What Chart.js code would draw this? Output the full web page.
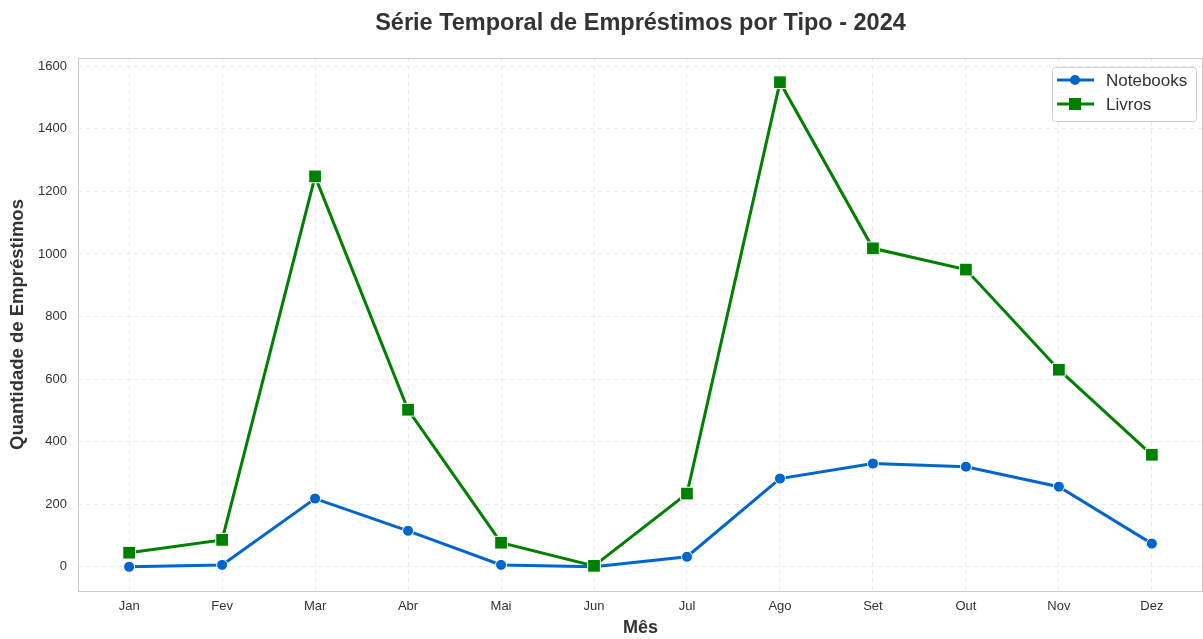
<!DOCTYPE html>
<html lang="pt">
<head>
  <meta charset="UTF-8">
  <title>Série Temporal de Empréstimos por Tipo - 2024</title>
  <script src="https://cdn.jsdelivr.net/npm/chart.js"></script>
  <style>
    html, body { margin: 0; padding: 0; background: #fff; }
    #wrap { width: 1203px; height: 639px; }
  </style>
</head>
<body>
  <div id="wrap">
    <canvas id="emprestimosChart" width="1203" height="639"></canvas>
  </div>

  <script>
    // Dados
    const meses = ['Jan', 'Fev', 'Mar', 'Abr', 'Mai', 'Jun', 'Jul', 'Ago', 'Set', 'Out', 'Nov', 'Dez'];
    const notebooks = [0, 6, 218, 115, 6, 0, 32, 282, 330, 320, 256, 74];
    const livros = [45, 86, 1248, 502, 77, 3, 234, 1549, 1018, 950, 630, 358];
    const yTicks = [0, 200, 400, 600, 800, 1000, 1200, 1400, 1600];
    const titulo = 'Série Temporal de Empréstimos por Tipo - 2024';

    const FONT = '"Liberation Sans", Arial, sans-serif';
    const BLUE = '#0066cc';
    const GREEN = '#008000';

    // matplotlib-style margins (5%)
    const yMaxData = Math.max(...livros, ...notebooks);
    const yMinData = Math.min(...livros, ...notebooks);
    const yPad = (yMaxData - yMinData) * 0.05;
    const xPad = (meses.length - 1) * 0.05;

    function toPoints(arr) {
      return arr.map((v, i) => ({ x: i, y: v }));
    }

    // title centred over the axes, frame around the plot area, legend top right
    const framePlugin = {
      id: 'frame',
      afterDraw(chart) {
        const ctx = chart.ctx;
        const a = chart.chartArea;
        ctx.save();
        ctx.strokeStyle = '#cccccc';
        ctx.lineWidth = 1;
        ctx.strokeRect(a.left + 0.5, a.top + 0.5, a.right - a.left - 1, a.bottom - a.top);

        ctx.fillStyle = '#333333';
        ctx.font = 'bold 23.5px ' + FONT;
        ctx.textAlign = 'center';
        ctx.textBaseline = 'alphabetic';
        ctx.fillText(titulo, (a.left + a.right) / 2, 30);

        // legend
        const bx = 1052, by = 67, bw = 144, bh = 54;
        ctx.fillStyle = 'rgba(255,255,255,0.85)';
        ctx.strokeStyle = '#d0d0d0';
        ctx.beginPath();
        ctx.roundRect(bx + 0.5, by + 0.5, bw, bh, 3);
        ctx.fill();
        ctx.stroke();

        const rows = [
          { label: 'Notebooks', color: BLUE, shape: 'circle', y: by + 13 },
          { label: 'Livros', color: GREEN, shape: 'rect', y: by + 37 }
        ];
        rows.forEach(r => {
          ctx.strokeStyle = r.color;
          ctx.lineWidth = 3;
          ctx.beginPath();
          ctx.moveTo(bx + 5, r.y);
          ctx.lineTo(bx + 42, r.y);
          ctx.stroke();
          ctx.fillStyle = r.color;
          ctx.beginPath();
          if (r.shape === 'circle') {
            ctx.arc(bx + 23, r.y, 5, 0, Math.PI * 2);
          } else {
            ctx.rect(bx + 17, r.y - 6, 12, 12);
          }
          ctx.fill();
          ctx.fillStyle = '#333333';
          ctx.font = '17px ' + FONT;
          ctx.textBaseline = 'middle';
          ctx.textAlign = 'left';
          ctx.fillText(r.label, bx + 54, r.y + 1);
        });
        ctx.restore();
      }
    };

    const ctx = document.getElementById('emprestimosChart').getContext('2d');
    const chart = new Chart(ctx, {
      type: 'line',
      data: {
        datasets: [
          {
            label: 'Notebooks',
            data: toPoints(notebooks),
            order: 1,
            borderColor: BLUE,
            backgroundColor: BLUE,
            borderWidth: 3,
            pointStyle: 'circle',
            pointRadius: 5.5,
            pointBorderColor: '#ffffff',
            pointBorderWidth: 1,
            tension: 0
          },
          {
            label: 'Livros',
            data: toPoints(livros),
            order: 0,
            borderColor: GREEN,
            backgroundColor: GREEN,
            borderWidth: 3,
            pointStyle: 'rect',
            pointRadius: 9,
            pointBorderColor: '#ffffff',
            pointBorderWidth: 1,
            tension: 0
          }
        ]
      },
      options: {
        responsive: false,
        animation: false,
        layout: { autoPadding: false, padding: { left: 0, right: -2, top: 58, bottom: 0 } },
        plugins: {
          legend: { display: false },
          tooltip: { enabled: false },
          title: { display: false }
        },
        scales: {
          x: {
            type: 'linear',
            min: -xPad,
            max: meses.length - 1 + xPad,
            afterFit(scale) {
              scale.height = 48;
              scale.paddingLeft = 0;
              scale.paddingRight = 0;
            },
            afterBuildTicks(scale) {
              scale.ticks = meses.map((m, i) => ({ value: i }));
            },
            ticks: {
              callback: v => meses[v],
              color: '#333333',
              font: { family: FONT, size: 13 },
              padding: 8,
              maxRotation: 0
            },
            grid: {
              color: '#ebebeb',
              drawTicks: false
            },
            border: { display: false, dash: [4, 4] },
            title: {
              display: true,
              text: 'Mês',
              color: '#333333',
              font: { family: FONT, size: 18, weight: 'bold' },
              padding: { top: 0, bottom: 0 }
            }
          },
          y: {
            type: 'linear',
            min: yMinData - yPad,
            max: yMaxData + yPad,
            afterFit(scale) {
              scale.width = 78;
              scale.paddingTop = 0;
              scale.paddingBottom = 0;
            },
            afterBuildTicks(scale) {
              scale.ticks = yTicks.map(v => ({ value: v }));
            },
            ticks: {
              callback: v => String(v),
              color: '#333333',
              font: { family: FONT, size: 13 },
              padding: 11
            },
            grid: {
              color: '#ebebeb',
              drawTicks: false
            },
            border: { display: false, dash: [4, 4] },
            title: {
              display: true,
              text: 'Quantidade de Empréstimos',
              color: '#333333',
              font: { family: FONT, size: 18.5, weight: 'bold' },
              padding: { top: 7, bottom: 0 }
            }
          }
        }
      },
      plugins: [framePlugin]
    });
  </script>
</body>
</html>
